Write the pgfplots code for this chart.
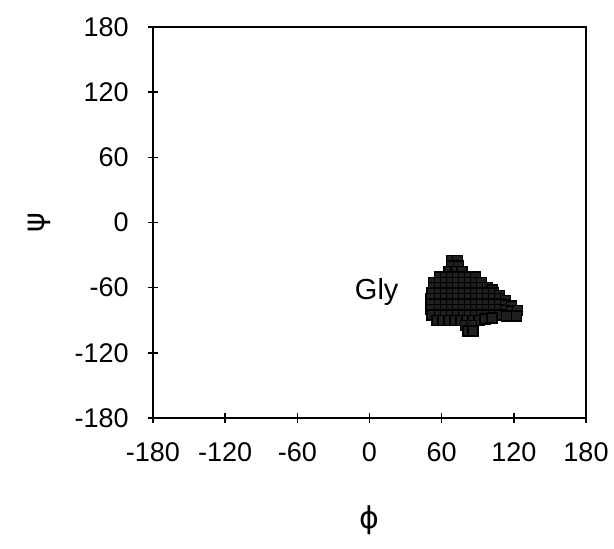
\documentclass[border=0pt]{standalone}
\usepackage{fontspec}
\setmainfont{Liberation Sans}
\newfontfamily\greekfont{DejaVu Sans}
\usepackage{pgfplots}
\pgfplotsset{compat=1.18}
\usetikzlibrary{calc}
\begin{document}
\begin{tikzpicture}
\begin{axis}[
  name=ax,
  scale only axis,
  width=433pt, height=391pt,
  xmin=-180, xmax=180, ymin=-180, ymax=180,
  xtick={-180,-120,...,180}, ytick={-180,-120,...,180},
  tick pos=left, tick align=center,
  major tick length=10pt,
  line width=2pt,
  axis line style={line width=2.4pt},
  every tick/.style={black, line width=1.6pt},
  /pgf/number format/assume math mode=true,
  tick label style={font=\fontsize{27}{30}\selectfont},
  xticklabel style={yshift=-15pt},
  yticklabel style={xshift=-15pt},
  xlabel={ϕ}, ylabel={ψ},
  label style={font=\greekfont\fontsize{30}{34}\selectfont},
  xlabel style={yshift=-37pt},
  ylabel style={yshift=16pt},
  clip=false,
]
\addplot[only marks, mark=square*, mark size=5pt,
  mark options={draw=black, fill=black!88, line width=1.4pt}] coordinates {
(68,-35) (73,-35)
(68,-40) (74,-40)
(66,-45) (72,-45) (77,-45)
(58,-50) (63,-50) (68,-50) (73,-50) (78,-50) (83,-50) (88,-50)
(53,-55) (58,-55) (63,-55) (68,-55) (73,-55) (78,-55) (83,-55) (88,-55) (93,-55)
(53,-60) (58,-60) (63,-60) (68,-60) (73,-60) (78,-60) (83,-60) (88,-60) (93,-60) (98,-60) (102,-62)
(52,-65) (58,-65) (63,-65) (68,-65) (73,-65) (78,-65) (83,-65) (88,-65) (93,-65) (98,-65) (103,-65) (108,-67)
(51,-70) (58,-70) (63,-70) (68,-70) (73,-70) (78,-70) (83,-70) (88,-70) (93,-70) (98,-70) (103,-70) (108,-70) (113,-72)
(51,-75) (58,-75) (63,-75) (68,-75) (73,-75) (78,-75) (83,-75) (88,-75) (93,-75) (98,-75) (103,-75) (108,-75) (113,-76) (118,-77)
(51,-80) (58,-80) (63,-80) (68,-80) (73,-80) (78,-80) (83,-80) (88,-80) (93,-80) (98,-80) (103,-80) (108,-80) (113,-81) (118,-82) (123,-81)
(52,-85) (58,-85) (63,-85) (68,-85) (73,-85) (78,-85) (83,-85) (88,-85) (93,-85) (98,-85) (103,-85) (108,-85) (114,-86) (122,-86)
(56,-90) (61,-90) (66,-90) (71,-90) (76,-90) (81,-90) (86,-90) (91,-90) (96,-89) (102,-88)
(80,-95) (85,-95)
(82,-100) (86,-100)
};
\node[font=\fontsize{29}{32}\selectfont] at (axis cs:6,-64) {Gly};
\end{axis}
\pgfresetboundingbox
\path[use as bounding box] ($(ax.south west)+(-153pt,-130pt)$) rectangle ($(ax.north east)+(28pt,27pt)$);
\end{tikzpicture}
\end{document}
